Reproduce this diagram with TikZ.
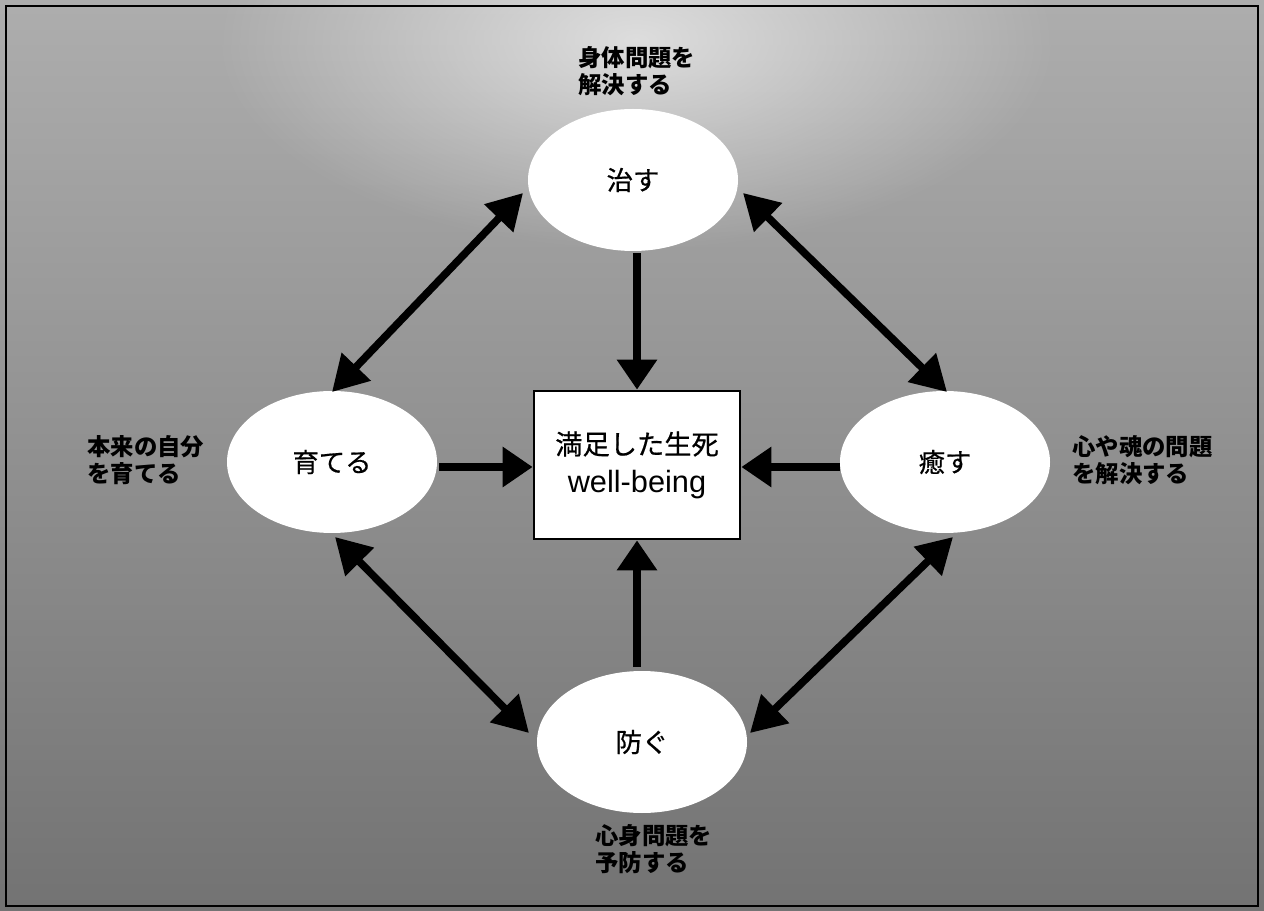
\documentclass[tikz,border=0pt]{standalone}
\usepackage{fontspec}
\setmainfont{Noto Sans CJK JP}
\newfontfamily\latinfont{Liberation Sans}
\usetikzlibrary{arrows.meta,shapes.geometric,fadings}
\tikzfading[name=softglow, inner color=transparent!0, outer color=transparent!100]
\begin{document}
\begin{tikzpicture}[x={(0.02cm,0)},y={(0,-0.02cm)},
  blob/.style={ellipse,fill=white,minimum width=210*0.02cm,minimum height=142*0.02cm,inner sep=0pt,font=\fontsize{15}{18}\selectfont\addfontfeatures{FakeBold=0.6}},
  centerbox/.style={rectangle,draw=black,line width=1.6pt,fill=white,minimum width=206*0.02cm,minimum height=148*0.02cm,align=center,font=\fontsize{15.5}{21.5}\selectfont\addfontfeatures{FakeBold=0.6}},
  lbl/.style={align=left,font=\fontsize{13.3}{15.5}\selectfont\bfseries,inner sep=0pt},
  conn/.style={line width=4pt,-{Triangle[length=17pt,width=22pt]}},
  dconn/.style={line width=4.3pt,{Triangle[length=20pt,width=22pt]}-{Triangle[length=20pt,width=22pt]}}]
\useasboundingbox (0,0) rectangle (1264,911);
\shade[top color=black!32,bottom color=black!55] (0,0) rectangle (1264,911);
\fill[white,opacity=0.6,path fading=softglow] (636,40) ellipse (420 and 210);
\draw[line width=1.2pt] (6,6) rectangle (1258,906);
\node[blob] (osu) at (633,180) {治す};
\node[blob] (sodateru) at (332,462) {育てる};
\node[blob] (iyasu) at (945,462) {癒す};
\node[blob] (fusegu) at (642,742) {防ぐ};
\node[centerbox] (box) at (637,465) {満足した生死\\{\latinfont\fontsize{17.5}{21.5}\selectfont well-being}};
\node[lbl,anchor=west] (t1) at (578,71) {身体問題を\\解決する};
\node[lbl,anchor=west] (t2) at (87,460) {本来の自分\\を育てる};
\node[lbl,anchor=west] (t3) at (1072,460) {心や魂の問題\\を解決する};
\node[lbl,anchor=west] (t4) at (595,849) {心身問題を\\予防する};
\coordinate (a1) at (523,193); \coordinate (a2) at (332,392);
\coordinate (b1) at (743,193); \coordinate (b2) at (947,392);
\coordinate (c1) at (335,537); \coordinate (c2) at (529,733);
\coordinate (d1) at (953,537); \coordinate (d2) at (750,733);
\draw[dconn] (a1) -- (a2);
\draw[dconn] (b1) -- (b2);
\draw[dconn] (c1) -- (c2);
\draw[dconn] (d1) -- (d2);
\draw[conn] (box.north |- 0,253) -- (box.north);
\draw[conn] (439,467) -- (box.west |- 0,467);
\draw[conn] (840,467) -- (box.east |- 0,467);
\draw[conn] (box.south |- 0,667) -- (box.south);
\end{tikzpicture}
\end{document}
